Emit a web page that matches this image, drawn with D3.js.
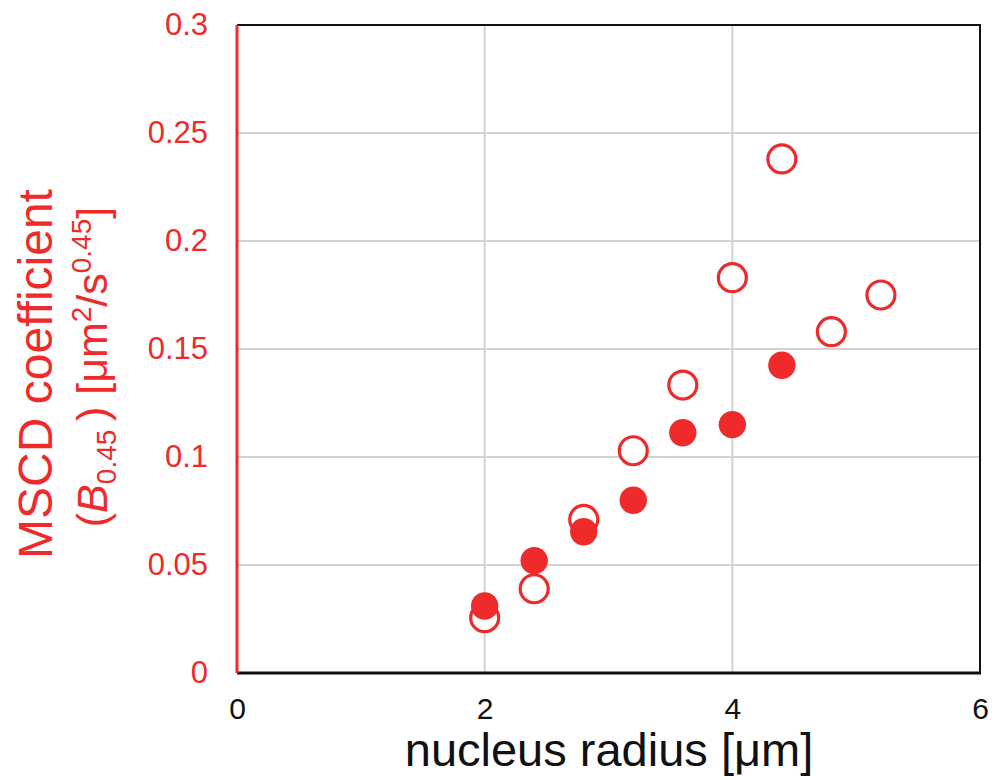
<!DOCTYPE html>
<html>
    <head>
        <script type="text/javascript" src="https://cdn.jsdelivr.net/npm/d3@7/dist/d3.min.js"></script>
        <style>
            body { margin: 0; background: #fff; }
            text { font-family: "Liberation Sans", Arial, sans-serif; }
        </style>
    </head>
    <body>
        <svg></svg>

        <script>
            var w = 995, h = 780;
            var red = "#ee2a2a";

            // data
            var radius = [2, 2.4, 2.8, 3.2, 3.6, 4.0, 4.4, 4.8, 5.2];
            var openB = [0.0256, 0.039, 0.0711, 0.1029, 0.1333, 0.183, 0.238, 0.158, 0.175];
            var filledRadius = [2, 2.4, 2.8, 3.2, 3.6, 4.0, 4.4];
            var filledB = [0.031, 0.052, 0.0654, 0.080, 0.1112, 0.115, 0.1425];

            var xTicks = [0, 2, 4, 6];
            var xTickLabels = ["0", "2", "4", "6"];
            var yTicks = [0, 0.05, 0.1, 0.15, 0.2, 0.25, 0.3];
            var yTickLabels = ["0", "0.05", "0.1", "0.15", "0.2", "0.25", "0.3"];

            var plotL = 237, plotR = 980, plotT = 25, plotB = 673;

            var svg = d3.select("svg")
                    .attr("width", w)
                    .attr("height", h);

            var x = d3.scaleLinear().domain([0, 6]).range([plotL, plotR]);
            var y = d3.scaleLinear().domain([0, 0.3]).range([plotB, plotT]);

            // grid
            svg.append("g")
                    .selectAll("line")
                    .data(xTicks.slice(1, -1))
                    .enter().append("line")
                    .attr("x1", function(d) { return x(d); })
                    .attr("x2", function(d) { return x(d); })
                    .attr("y1", plotT)
                    .attr("y2", plotB)
                    .attr("stroke", "#d2d2d2")
                    .attr("stroke-width", 2);

            svg.append("g")
                    .selectAll("line")
                    .data(yTicks.slice(1, -1))
                    .enter().append("line")
                    .attr("x1", plotL)
                    .attr("x2", plotR)
                    .attr("y1", function(d) { return y(d); })
                    .attr("y2", function(d) { return y(d); })
                    .attr("stroke", "#d2d2d2")
                    .attr("stroke-width", 2);

            // frame
            svg.append("line").attr("x1", plotL).attr("x2", plotR + 1).attr("y1", plotT).attr("y2", plotT)
                    .attr("stroke", "#111").attr("stroke-width", 2);
            svg.append("line").attr("x1", plotR).attr("x2", plotR).attr("y1", plotT).attr("y2", plotB)
                    .attr("stroke", "#111").attr("stroke-width", 2);
            svg.append("line").attr("x1", plotL).attr("x2", plotR + 1).attr("y1", plotB).attr("y2", plotB)
                    .attr("stroke", "#111").attr("stroke-width", 3);
            svg.append("line").attr("x1", plotL).attr("x2", plotL).attr("y1", plotT).attr("y2", plotB)
                    .attr("stroke", red).attr("stroke-width", 3);

            // axes
            var yAxis = svg.append("g")
                    .attr("transform", "translate(" + plotL + ",0)")
                    .call(d3.axisLeft(y)
                            .tickValues(yTicks)
                            .tickSize(0)
                            .tickPadding(29)
                            .tickFormat(function(d, i) { return yTickLabels[i]; }));
            yAxis.select(".domain").remove();
            yAxis.selectAll("text")
                    .attr("fill", red)
                    .style("font-size", "31px")
                    .style("font-family", "'Liberation Sans', Arial, sans-serif");

            var xAxis = svg.append("g")
                    .attr("transform", "translate(0," + plotB + ")")
                    .call(d3.axisBottom(x)
                            .tickValues(xTicks)
                            .tickSize(0)
                            .tickPadding(25)
                            .tickFormat(function(d, i) { return xTickLabels[i]; }));
            xAxis.select(".domain").remove();
            xAxis.selectAll("text")
                    .attr("fill", "#111")
                    .style("font-size", "30px")
                    .style("font-family", "'Liberation Sans', Arial, sans-serif");

            // open circles
            svg.append("g")
                    .selectAll("circle")
                    .data(radius)
                    .enter().append("circle")
                    .attr("cx", function(d) { return x(d); })
                    .attr("cy", function(d, i) { return y(openB[i]); })
                    .attr("r", 14)
                    .attr("fill", "#fff")
                    .attr("stroke", red)
                    .attr("stroke-width", 3.2);

            // filled circles
            svg.append("g")
                    .selectAll("circle")
                    .data(filledRadius)
                    .enter().append("circle")
                    .attr("cx", function(d) { return x(d); })
                    .attr("cy", function(d, i) { return y(filledB[i]); })
                    .attr("r", 13.7)
                    .attr("fill", red);

            // x title
            svg.append("text")
                    .attr("x", 609)
                    .attr("y", 766)
                    .attr("text-anchor", "middle")
                    .attr("fill", "#111")
                    .style("font-size", "47px")
                    .text("nucleus radius [\u03bcm]");

            // y title
            svg.append("text")
                    .attr("transform", "translate(52,374) rotate(-90)")
                    .attr("text-anchor", "middle")
                    .attr("fill", red)
                    .style("font-size", "48px")
                    .text("MSCD coefficient");

            var t2 = svg.append("text")
                    .attr("transform", "translate(107,367) rotate(-90)")
                    .attr("text-anchor", "middle")
                    .attr("fill", red)
                    .style("font-size", "43px");
            t2.append("tspan").text("(");
            t2.append("tspan").style("font-style", "italic").text("B");
            t2.append("tspan").attr("dy", 9).style("font-size", "28px").text("0.45");
            t2.append("tspan").attr("dy", -9).text("\u2009) [\u03bcm");
            t2.append("tspan").attr("dy", -16).style("font-size", "28px").text("2");
            t2.append("tspan").attr("dy", 16).text("/s");
            t2.append("tspan").attr("dy", -16).style("font-size", "28px").text("0.45");
            t2.append("tspan").attr("dy", 16).text("]");
        </script>
    </body>
</html>
